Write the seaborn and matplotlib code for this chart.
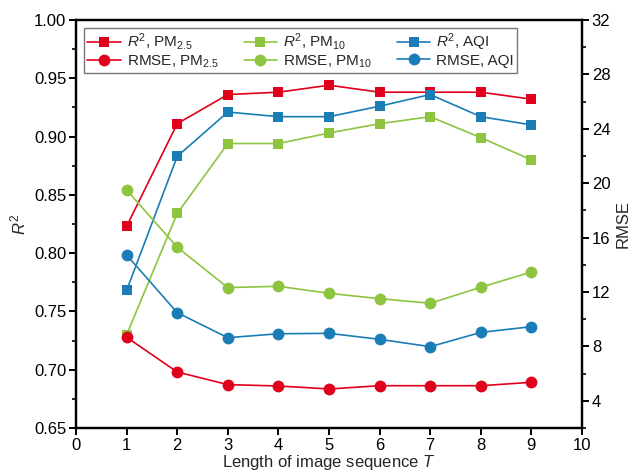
import numpy as np
import pandas as pd
import seaborn as sns
import matplotlib
matplotlib.use("Agg")
import matplotlib.pyplot as plt
from matplotlib.ticker import MultipleLocator

#%% data
seq_len = [1, 2, 3, 4, 5, 6, 7, 8, 9]

r2_pm25 = [0.823, 0.911, 0.936, 0.938, 0.944, 0.938, 0.938, 0.938, 0.932]
r2_pm10 = [0.730, 0.834, 0.894, 0.894, 0.903, 0.911, 0.917, 0.899, 0.880]
r2_aqi = [0.768, 0.883, 0.921, 0.917, 0.917, 0.926, 0.936, 0.917, 0.910]

rmse_pm25 = [8.67, 6.12, 5.19, 5.09, 4.87, 5.11, 5.11, 5.11, 5.36]
rmse_pm10 = [19.5, 15.29, 12.32, 12.42, 11.90, 11.51, 11.17, 12.35, 13.47]
rmse_aqi = [14.72, 10.48, 8.64, 8.93, 8.96, 8.52, 7.98, 9.03, 9.45]

#%% style
sns.set_theme(style="ticks")
plt.rcParams["font.family"] = ["Liberation Sans", "DejaVu Sans"]
plt.rcParams["mathtext.fontset"] = "custom"
plt.rcParams["mathtext.rm"] = "Liberation Sans"
plt.rcParams["mathtext.it"] = "Liberation Sans:italic"

red = "#E0001B"
green = "#8DC540"
blue = "#1A7DB6"

fig = plt.figure(figsize=(6.41, 4.74), dpi=100)
ax = fig.add_axes([0.1186, 0.097, 0.7894, 0.861])
ax2 = ax.twinx()

series_r2 = [(r2_pm25, red, r"$R^2$, PM$_{2.5}$"),
             (r2_pm10, green, r"$R^2$, PM$_{10}$"),
             (r2_aqi, blue, r"$R^2$, AQI")]
series_rmse = [(rmse_pm25, red, r"RMSE, PM$_{2.5}$"),
               (rmse_pm10, green, r"RMSE, PM$_{10}$"),
               (rmse_aqi, blue, r"RMSE, AQI")]

for vals, col, lab in series_r2:
    df = pd.DataFrame({"T": seq_len, "v": vals})
    sns.lineplot(data=df, x="T", y="v", ax=ax, color=col, marker="s",
                 markersize=7.5, markeredgewidth=0, linewidth=1.2, label=lab, legend=False)

for vals, col, lab in series_rmse:
    df = pd.DataFrame({"T": seq_len, "v": vals})
    sns.lineplot(data=df, x="T", y="v", ax=ax2, color=col, marker="o",
                 markersize=8.5, markeredgewidth=0, linewidth=1.2, label=lab, legend=False)

#%% axes
ax.set_xlim(0, 10)
ax.set_ylim(0.65, 1.00)
ax2.set_ylim(2, 32)
ax.xaxis.set_major_locator(MultipleLocator(1))
ax.yaxis.set_major_locator(MultipleLocator(0.05))
ax.yaxis.set_minor_locator(MultipleLocator(0.025))
ax2.yaxis.set_minor_locator(MultipleLocator(2))
ax2.set_yticks([4, 8, 12, 16, 20, 24, 28, 32])

ax.set_xlabel("Length of image sequence $T$", fontsize=12, labelpad=0)
ax.set_ylabel("$R^2$", fontsize=12, labelpad=4)
ax2.set_ylabel("RMSE", fontsize=12, labelpad=4)

for a in (ax, ax2):
    for s in a.spines.values():
        s.set_linewidth(1.6)
        s.set_color("black")
    a.tick_params(which="major", length=5, width=1.4, labelsize=12, direction="out",
                  colors="black", pad=2)
    a.tick_params(which="minor", length=3, width=1.4, direction="out")

ax.set_yticks(ax.get_yticks())
ax.set_yticklabels([f"{v:.2f}" for v in ax.get_yticks()])
ax.set_ylim(0.65, 1.00)

#%% legend
h1, l1 = ax.get_legend_handles_labels()
h2, l2 = ax2.get_legend_handles_labels()
handles = [h1[0], h2[0], h1[1], h2[1], h1[2], h2[2]]
labels = [l1[0], l2[0], l1[1], l2[1], l1[2], l2[2]]
leg = ax.legend(handles, labels, ncol=3, loc="upper left", bbox_to_anchor=(0.0, 1.0),
                fontsize=11, frameon=True, fancybox=False, edgecolor="#555555",
                handlelength=2.2, columnspacing=1.6, handletextpad=0.4,
                labelspacing=0.05, borderpad=0.2, borderaxespad=0.55)
leg.get_frame().set_linewidth(1.0)

fig.savefig("out.png", dpi=100)
